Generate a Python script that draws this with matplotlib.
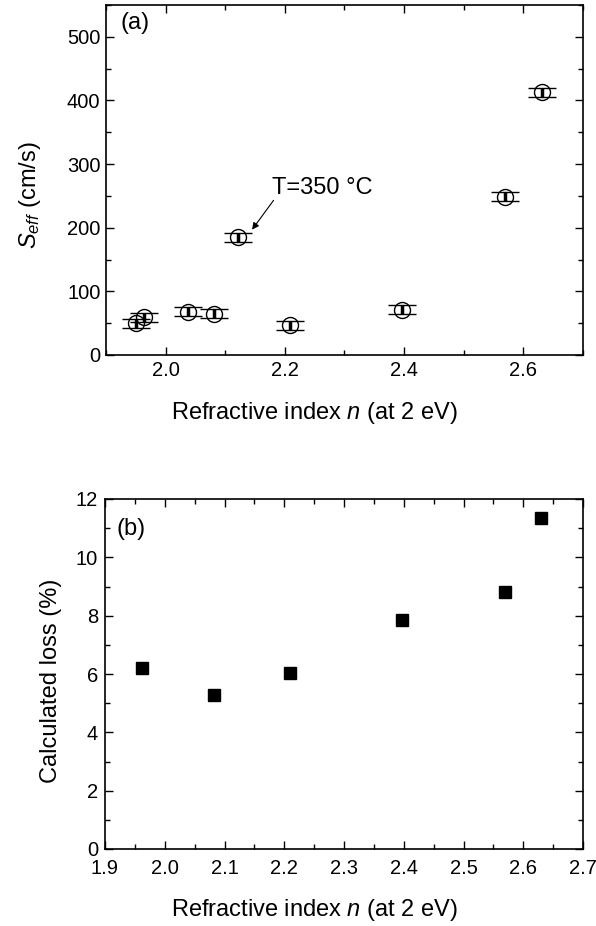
import matplotlib
matplotlib.use("Agg")
import matplotlib.pyplot as plt
from matplotlib.ticker import MultipleLocator

plt.rcParams['font.family'] = ['Liberation Sans', 'DejaVu Sans']
plt.rcParams['mathtext.fontset'] = 'custom'
plt.rcParams['mathtext.rm'] = 'Liberation Sans'
plt.rcParams['mathtext.it'] = 'Liberation Sans:italic'
plt.rcParams['mathtext.bf'] = 'Liberation Sans:bold'

# Panel (a) data
n_a = [1.950, 1.963, 2.038, 2.081, 2.122, 2.209, 2.397, 2.569, 2.632]
seff = [50, 59, 68, 65, 185, 47, 71, 249, 413]
seff_err = [7, 7, 7, 7, 7, 7, 7, 7, 7]

# Panel (b) data
n_b = [1.962, 2.083, 2.209, 2.397, 2.570, 2.630]
loss = [6.22, 5.28, 6.03, 7.86, 8.80, 11.36]

fig = plt.figure(figsize=(5.96, 9.26), dpi=100)
axa = fig.add_axes([106/596, 1-355/926, (583-106)/596, 350/926])
axb = fig.add_axes([105/596, 1-849/926, (583-105)/596, 350/926])

TS = 14.5
LS = 17

axa.errorbar(n_a, seff, yerr=seff_err, fmt='o', mfc='none', mec='black', mew=1.0,
             ms=11.5, ecolor='black', elinewidth=2.5, capsize=10, capthick=2.6, color='black')
axa.set_xlim(1.9, 2.7)
axa.set_ylim(0, 550)
axa.xaxis.set_major_locator(MultipleLocator(0.2))
axa.xaxis.set_minor_locator(MultipleLocator(0.1))
axa.yaxis.set_major_locator(MultipleLocator(100))
axa.yaxis.set_minor_locator(MultipleLocator(50))
axa.set_ylabel(r'$S_{\mathbf{\mathit{eff}}}$ (cm/s)', fontsize=LS)
axa.yaxis.set_label_coords(-0.132, 0.457)
axa.set_xlabel(r'Refractive index $n$ (at 2 eV)', fontsize=LS)
axa.xaxis.set_label_coords(0.438, -0.128)
axa.text(0.03, 0.95, '(a)', transform=axa.transAxes, fontsize=LS, va='center', ha='left')
axa.annotate('', xy=(2.145, 197), xytext=(2.181, 243),
             arrowprops=dict(arrowstyle='-|>', color='black', lw=0.8, mutation_scale=10,
                             shrinkA=0, shrinkB=0))
axa.text(2.178, 253, 'T=350 °C', fontsize=LS, ha='left', va='baseline')

axb.plot(n_b, loss, 's', color='black', ms=9)
axb.set_xlim(1.9, 2.7)
axb.set_ylim(0, 12)
axb.xaxis.set_major_locator(MultipleLocator(0.1))
axb.xaxis.set_minor_locator(MultipleLocator(0.05))
axb.yaxis.set_major_locator(MultipleLocator(2))
axb.yaxis.set_minor_locator(MultipleLocator(1))
axb.set_ylabel('Calculated loss (%)', fontsize=LS)
axb.yaxis.set_label_coords(-0.09, 0.48)
axb.set_xlabel(r'Refractive index $n$ $($at 2 eV)', fontsize=LS)
axb.xaxis.set_label_coords(0.438, -0.136)
axb.text(0.025, 0.915, '(b)', transform=axb.transAxes, fontsize=LS, va='center', ha='left')

for ax in (axa, axb):
    ax.tick_params(which='both', direction='in', top=True, right=True, labelsize=TS, width=1)
    ax.tick_params(which='major', length=6, pad=4)
    ax.tick_params(which='minor', length=3.5)
    for s in ax.spines.values():
        s.set_linewidth(1.2)
axb.tick_params(axis='x', which='major', pad=7)
axb.tick_params(axis='y', which='major', pad=5)

fig.savefig('out.png', dpi=100)
